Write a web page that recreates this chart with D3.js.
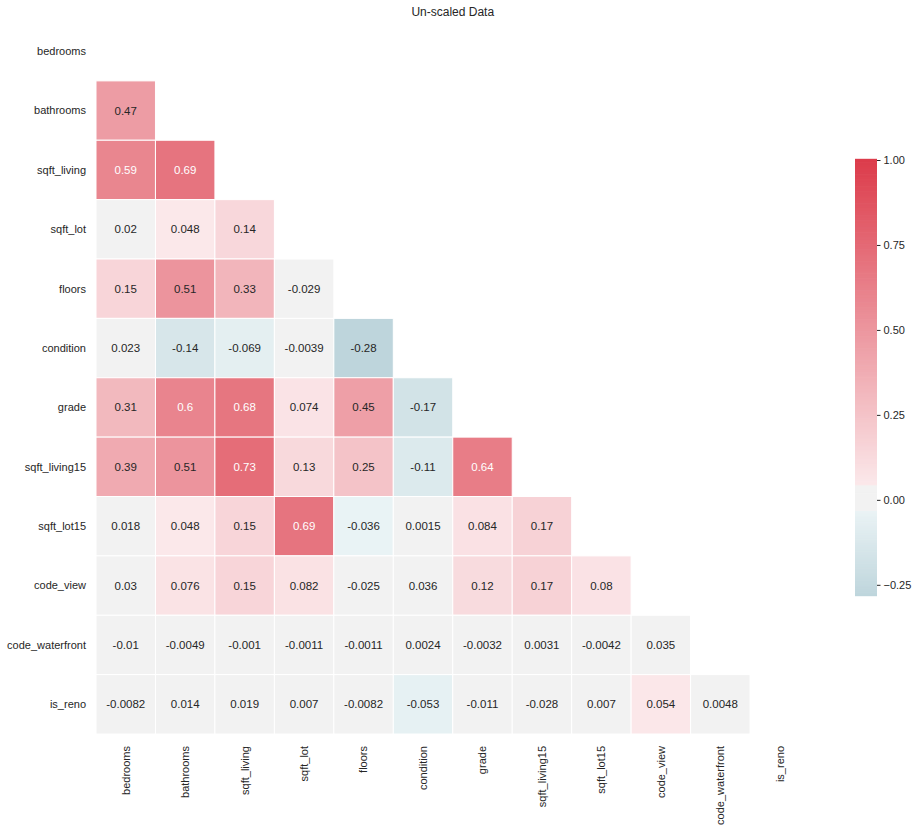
<!DOCTYPE html>
<html>
<head>
<meta charset="utf-8">
<script src="https://cdn.jsdelivr.net/npm/d3@7"></script>
<style>
  body { margin: 0; background: #fff; }
  text { font-family: "Liberation Sans", Arial, sans-serif; fill: #262626; }
</style>
</head>
<body>
<div id="chart"></div>
<script>
// Variables of the correlation matrix
const labels = ['bedrooms', 'bathrooms', 'sqft_living', 'sqft_lot', 'floors', 'condition',
  'grade', 'sqft_living15', 'sqft_lot15', 'code_view', 'code_waterfront', 'is_reno']

// Lower triangle, row by row (row i has i values)
const corrRows = [
  [],
  [0.47],
  [0.59, 0.69],
  [0.02, 0.048, 0.14],
  [0.15, 0.51, 0.33, -0.029],
  [0.023, -0.14, -0.069, -0.0039, -0.28],
  [0.31, 0.6, 0.68, 0.074, 0.45, -0.17],
  [0.39, 0.51, 0.73, 0.13, 0.25, -0.11, 0.64],
  [0.018, 0.048, 0.15, 0.69, -0.036, 0.0015, 0.084, 0.17],
  [0.03, 0.076, 0.15, 0.082, -0.025, 0.036, 0.12, 0.17, 0.08],
  [-0.01, -0.0049, -0.001, -0.0011, -0.0011, 0.0024, -0.0032, 0.0031, -0.0042, 0.035],
  [-0.0082, 0.014, 0.019, 0.007, -0.0082, -0.053, -0.011, -0.028, 0.007, 0.054, 0.0048]
]

const cbarTicks = [-0.25, 0, 0.25, 0.5, 0.75, 1]

// Canvas
const width = 921,
  height = 831,
  marginLeft = 96,
  marginTop = 21.5,
  mapW = 713.5,
  mapH = 712.5

let svg = d3.select('#chart')
  .append('svg')
  .attr('width', width)
  .attr('height', height)

// flatten into cells
let cells = []
corrRows.forEach((row, i) => {
  row.forEach((v, j) => {
    cells.push({ row: labels[i], col: labels[j], value: v })
  })
})

const vmin = d3.min(cells, d => d.value)
const vmax = 1

// diverging palette with a flat grey band round zero
const pos = d3.scaleLinear().domain([0.042, 1]).range(['#fbe9eb', '#dc3c4b'])
const neg = d3.scaleLinear().domain([-1, -0.033]).range(['#3f7f95', '#eaf3f5'])
let color = (v) => {
  if (v > 0.042) return pos(v)
  if (v < -0.033) return neg(v)
  return '#f2f2f2'
}

let textColor = (c) => {
  let rgb = d3.rgb(c)
  let lin = [rgb.r, rgb.g, rgb.b].map(x => {
    x = x / 255
    return x <= 0.03928 ? x / 12.92 : Math.pow((x + 0.055) / 1.055, 2.4)
  })
  let lum = 0.2126 * lin[0] + 0.7152 * lin[1] + 0.0722 * lin[2]
  return lum > 0.408 ? '#262626' : '#ffffff'
}

const fmt = d3.format('.2~r')
let annotText = (v) => fmt(v).replace('\u2212', '-')

const xScale = d3.scaleBand().domain(labels).range([marginLeft, marginLeft + mapW])
const yScale = d3.scaleBand().domain(labels).range([marginTop, marginTop + mapH])

// title
svg.append('text')
  .attr('x', marginLeft + mapW / 2)
  .attr('y', 16)
  .attr('text-anchor', 'middle')
  .style('font-size', '12px')
  .text('Un-scaled Data')

// cells
let g = svg.append('g')
g.selectAll('rect')
  .data(cells)
  .enter()
  .append('rect')
  .attr('x', d => xScale(d.col))
  .attr('y', d => yScale(d.row))
  .attr('width', xScale.bandwidth())
  .attr('height', yScale.bandwidth())
  .attr('fill', d => color(d.value))
  .attr('stroke', '#fff')
  .attr('stroke-width', 1)

g.selectAll('text.annot')
  .data(cells)
  .enter()
  .append('text')
  .attr('class', 'annot')
  .attr('x', d => xScale(d.col) + xScale.bandwidth() / 2)
  .attr('y', d => yScale(d.row) + yScale.bandwidth() / 2)
  .attr('dy', '0.35em')
  .attr('text-anchor', 'middle')
  .style('font-size', '11.5px')
  .style('fill', d => textColor(color(d.value)))
  .text(d => annotText(d.value))

// y labels
svg.append('g')
  .selectAll('text')
  .data(labels)
  .enter()
  .append('text')
  .attr('x', marginLeft - 10)
  .attr('y', d => yScale(d) + yScale.bandwidth() / 2)
  .attr('dy', '0.35em')
  .attr('text-anchor', 'end')
  .style('font-size', '11px')
  .text(d => d)

// x labels, rotated
svg.append('g')
  .selectAll('text')
  .data(labels)
  .enter()
  .append('text')
  .attr('transform', d => `translate(${xScale(d) + xScale.bandwidth() / 2},${marginTop + mapH + 12}) rotate(-90)`)
  .attr('dy', '0.35em')
  .attr('text-anchor', 'end')
  .style('font-size', '11px')
  .text(d => d)

// colorbar
const cbX = 855, cbW = 22
const cbScale = d3.scaleLinear().domain([vmin, vmax]).range([595, 160])
let steps = d3.range(256).map(i => vmin + (vmax - vmin) * i / 255)
let cb = svg.append('g')
cb.selectAll('rect')
  .data(steps)
  .enter()
  .append('rect')
  .attr('x', cbX)
  .attr('y', d => cbScale(d) - 1.2)
  .attr('width', cbW)
  .attr('height', 2.4)
  .attr('fill', d => color(d))

let cbAxis = d3.axisRight(cbScale)
  .tickValues(cbarTicks)
  .tickSize(3.5)
  .tickPadding(3)
  .tickFormat(d3.format('.2f'))
let ax = svg.append('g')
  .attr('transform', `translate(${cbX + cbW},0)`)
  .call(cbAxis)
ax.select('.domain').remove()
ax.selectAll('line').attr('stroke', '#262626')
ax.selectAll('text')
  .style('font-size', '11px')
  .style('font-family', '"Liberation Sans", Arial, sans-serif')
  .attr('fill', '#262626')
</script>
</body>
</html>
